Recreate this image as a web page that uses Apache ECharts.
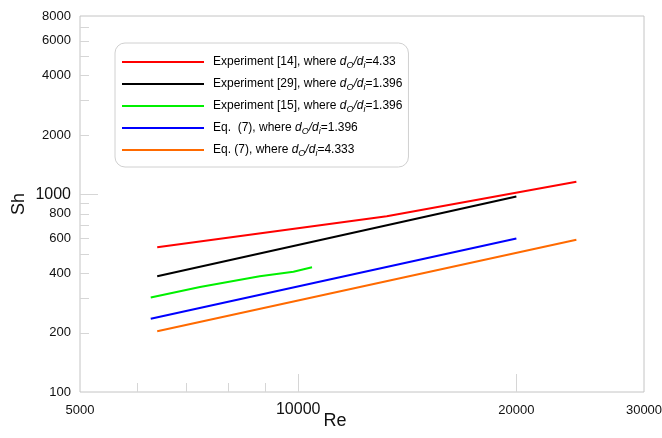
<!DOCTYPE html>
<html>
<head>
<meta charset="utf-8">
<script src="https://cdn.jsdelivr.net/npm/echarts@6/dist/echarts.min.js"></script>
<style>
  html, body { margin: 0; padding: 0; background: #fff; }
  #chart { width: 662px; height: 438px; }
</style>
</head>
<body>
<div id="chart"></div>
<script>
// Axis ranges (log-log)
const reRange = [5000, 30000];
const shRange = [100, 8000];

// Tick marks and labels
const reTicks = [6000, 7000, 8000, 9000, 10000, 20000];
const reMajorTicks = [10000, 20000];
const reLabels = [5000, 10000, 20000, 30000];
const shTicks = [200, 300, 400, 500, 600, 700, 800, 900, 1000, 2000, 3000, 4000, 5000, 6000, 7000];
const shMajorTicks = [1000];
const shLabels = [100, 200, 400, 600, 800, 1000, 2000, 4000, 6000, 8000];
const bigLabels = [1000, 10000];

// Series names (plain) used as legend keys
const seriesNames = [
  'Experiment [14], where dO/di=4.33',
  'Experiment [29], where dO/di=1.396',
  'Experiment [15], where dO/di=1.396',
  'Eq.  (7), where dO/di=1.396',
  'Eq. (7), where dO/di=4.333'
];
// Legend text prefix and ratio value shown after d_O/d_i
const legendPrefix = ['Experiment [14], where ', 'Experiment [29], where ', 'Experiment [15], where ', 'Eq.  (7), where ', 'Eq. (7), where '];
const legendRatio = ['4.33', '1.396', '1.396', '1.396', '4.333'];
const seriesColors = ['#ff0000', '#000000', '#00f000', '#0000ff', '#ff6a00'];

// Data: Re and Sh values
const exp14Re = [6390, 13250, 24200];
const exp14Sh = [540, 776, 1160];
const exp29Re = [6390, 20000];
const exp29Sh = [385, 975];
const exp15Re = [6260, 7320, 8850, 9850, 10450];
const exp15Sh = [301, 340, 385, 406, 428];
const eq7aRe = [6260, 20000];
const eq7aSh = [235, 598];
const eq7bRe = [6390, 24200];
const eq7bSh = [203, 590];

const reSets = [exp14Re, exp29Re, exp15Re, eq7aRe, eq7bRe];
const shSets = [exp14Sh, exp29Sh, exp15Sh, eq7aSh, eq7bSh];

const FONT = '"Liberation Sans", Arial, Helvetica, sans-serif';
const TICK_COLOR = '#d6d6d6';
const LABEL_COLOR = '#111';

const pairs = (xs, ys) => xs.map((x, i) => [x, ys[i]]);
const crisp = v => Math.round(v) + 0.5;

const lineSeries = seriesNames.map((name, i) => ({
  name: name,
  type: 'line',
  data: pairs(reSets[i], shSets[i]),
  showSymbol: false,
  symbol: 'none',
  smooth: false,
  color: seriesColors[i],
  lineStyle: { width: 2, color: seriesColors[i] },
  z: 4
}));

// Y-axis tick marks drawn inward from the left edge
const yTickSeries = {
  type: 'custom', silent: true, clip: false, z: 3,
  data: shTicks.map(v => [reRange[0], v]),
  encode: { x: 0, y: 1 },
  renderItem: (params, api) => {
    const v = api.value(1);
    const p = api.coord([reRange[0], v]);
    const len = shMajorTicks.includes(v) ? 18 : 9;
    const y = crisp(p[1]);
    return { type: 'line', shape: { x1: p[0], y1: y, x2: p[0] + len, y2: y },
             style: { stroke: TICK_COLOR, lineWidth: 1 } };
  }
};

// X-axis tick marks drawn upward from the bottom edge
const xTickSeries = {
  type: 'custom', silent: true, clip: false, z: 3,
  data: reTicks.map(v => [v, shRange[0]]),
  encode: { x: 0, y: 1 },
  renderItem: (params, api) => {
    const v = api.value(0);
    const p = api.coord([v, shRange[0]]);
    const len = reMajorTicks.includes(v) ? 18 : 9;
    const x = crisp(p[0]);
    return { type: 'line', shape: { x1: x, y1: p[1], x2: x, y2: p[1] - len },
             style: { stroke: TICK_COLOR, lineWidth: 1 } };
  }
};

// Y-axis labels
const yLabelSeries = {
  type: 'custom', silent: true, clip: false, z: 3,
  data: shLabels.map(v => [reRange[0], v]),
  encode: { x: 0, y: 1 },
  renderItem: (params, api) => {
    const v = api.value(1);
    const p = api.coord([reRange[0], v]);
    const size = bigLabels.includes(v) ? 16 : 13;
    return { type: 'text',
             style: { text: String(v), x: p[0] - 9, y: p[1],
                      align: 'right', verticalAlign: 'middle',
                      textAlign: 'right', textVerticalAlign: 'middle',
                      font: size + 'px ' + FONT, fill: LABEL_COLOR } };
  }
};

// X-axis labels
const xLabelSeries = {
  type: 'custom', silent: true, clip: false, z: 3,
  data: reLabels.map(v => [v, shRange[0]]),
  encode: { x: 0, y: 1 },
  renderItem: (params, api) => {
    const v = api.value(0);
    const p = api.coord([v, shRange[0]]);
    const size = bigLabels.includes(v) ? 16 : 13;
    return { type: 'text',
             style: { text: String(v), x: p[0], y: p[1] + 18,
                      align: 'center', verticalAlign: 'middle',
                      textAlign: 'center', textVerticalAlign: 'middle',
                      font: size + 'px ' + FONT, fill: LABEL_COLOR } };
  }
};

const chart = echarts.init(document.getElementById('chart'), null, { renderer: 'canvas' });

chart.setOption({
  animation: false,
  backgroundColor: '#ffffff',
  textStyle: { fontFamily: FONT },
  grid: {
    left: 80, right: 18, top: 16, bottom: 46,
    show: true, borderColor: '#c4c4c4', borderWidth: 1, backgroundColor: 'transparent'
  },
  xAxis: {
    type: 'log', logBase: 10, min: reRange[0], max: reRange[1],
    axisLine: { show: false }, axisTick: { show: false },
    axisLabel: { show: false }, splitLine: { show: false }, minorTick: { show: false }
  },
  yAxis: {
    type: 'log', logBase: 10, min: shRange[0], max: shRange[1],
    name: 'Sh', nameLocation: 'middle', nameGap: 52,
    nameTextStyle: { fontSize: 18, color: LABEL_COLOR, fontFamily: FONT },
    axisLine: { show: false }, axisTick: { show: false },
    axisLabel: { show: false }, splitLine: { show: false }, minorTick: { show: false }
  },
  graphic: [{
    type: 'text', silent: true,
    style: { text: 'Re', x: 335, y: 421, align: 'center', verticalAlign: 'middle',
             textAlign: 'center', textVerticalAlign: 'middle',
             font: '18px ' + FONT, fill: LABEL_COLOR }
  }],
  legend: {
    data: seriesNames,
    orient: 'vertical',
    left: 115, top: 43,
    padding: [13, 6, 9, 7],
    itemGap: 8,
    itemWidth: 82, itemHeight: 2,
    icon: 'rect',
    backgroundColor: '#ffffff',
    borderColor: '#d0d0d0', borderWidth: 1, borderRadius: 10,
    selectedMode: false,
    formatter: name => {
      const i = seriesNames.indexOf(name);
      return '{n|' + legendPrefix[i] + '}{d|d}{s|O}{d|/d}{s|i}{n|=' + legendRatio[i] + '}';
    },
    textStyle: {
      color: '#000', fontSize: 12, fontFamily: FONT, padding: [0, 0, 0, 4],
      rich: {
        n: { fontSize: 12, lineHeight: 16, color: '#000', fontFamily: FONT },
        d: { fontSize: 12, lineHeight: 16, fontStyle: 'italic', color: '#000', fontFamily: FONT },
        s: { fontSize: 9, lineHeight: 10, fontStyle: 'italic', verticalAlign: 'bottom', color: '#000', fontFamily: FONT }
      }
    },
    z: 10
  },
  series: lineSeries.concat([yTickSeries, xTickSeries, yLabelSeries, xLabelSeries])
});
</script>
</body>
</html>
